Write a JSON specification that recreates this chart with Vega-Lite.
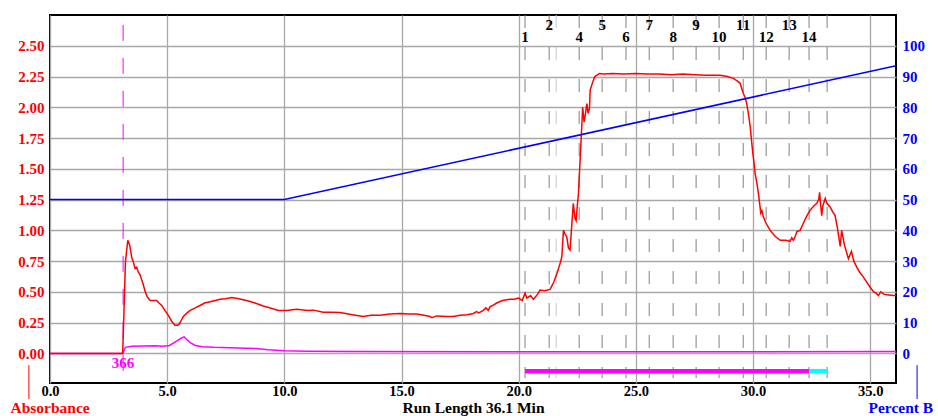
{
  "$schema": "https://vega.github.io/schema/vega-lite/v6.json",
  "width": 846,
  "height": 368,
  "autosize": {"type": "none"},
  "padding": {"left": 50, "top": 15, "right": 42, "bottom": 33},
  "background": "white",
  "config": {
    "view": {"stroke": "black", "strokeWidth": 2},
    "font": "Liberation Serif",
    "axis": {
      "labelFont": "Liberation Serif",
      "labelFontWeight": "bold",
      "labelFontSize": 15,
      "titleFont": "Liberation Serif",
      "titleFontWeight": "bold",
      "titleFontSize": 15.5,
      "domain": false,
      "ticks": false,
      "gridColor": "#a8a8a8",
      "gridWidth": 1.3,
      "gridOpacity": 1
    }
  },
  "datasets": {
    "absorbance": [
      {"t": 0, "abs": 0}, {"t": 3.10, "abs": 0}, {"t": 3.15, "abs": 0.30}, {"t": 3.22, "abs": 0.75},
      {"t": 3.32, "abs": 0.92}, {"t": 3.40, "abs": 0.88}, {"t": 3.49, "abs": 0.78}, {"t": 3.56, "abs": 0.74},
      {"t": 3.63, "abs": 0.69}, {"t": 3.70, "abs": 0.70}, {"t": 3.77, "abs": 0.66}, {"t": 3.84, "abs": 0.64},
      {"t": 3.91, "abs": 0.60}, {"t": 3.98, "abs": 0.56}, {"t": 4.05, "abs": 0.51}, {"t": 4.15, "abs": 0.46},
      {"t": 4.27, "abs": 0.43}, {"t": 4.40, "abs": 0.43}, {"t": 4.55, "abs": 0.43}, {"t": 4.65, "abs": 0.41},
      {"t": 4.77, "abs": 0.39}, {"t": 4.90, "abs": 0.35}, {"t": 5.05, "abs": 0.31}, {"t": 5.20, "abs": 0.26},
      {"t": 5.33, "abs": 0.23}, {"t": 5.45, "abs": 0.23}, {"t": 5.52, "abs": 0.24}, {"t": 5.60, "abs": 0.27},
      {"t": 5.69, "abs": 0.30}, {"t": 5.85, "abs": 0.33}, {"t": 5.98, "abs": 0.35}, {"t": 6.20, "abs": 0.37},
      {"t": 6.40, "abs": 0.39}, {"t": 6.60, "abs": 0.41}, {"t": 6.83, "abs": 0.42}, {"t": 7.05, "abs": 0.43},
      {"t": 7.26, "abs": 0.44}, {"t": 7.50, "abs": 0.445}, {"t": 7.75, "abs": 0.455}, {"t": 8.05, "abs": 0.445},
      {"t": 8.39, "abs": 0.43}, {"t": 8.75, "abs": 0.41}, {"t": 9.10, "abs": 0.385}, {"t": 9.40, "abs": 0.37},
      {"t": 9.75, "abs": 0.35}, {"t": 10.10, "abs": 0.35}, {"t": 10.53, "abs": 0.36}, {"t": 11.0, "abs": 0.35},
      {"t": 11.24, "abs": 0.352}, {"t": 11.66, "abs": 0.335}, {"t": 12.0, "abs": 0.335}, {"t": 12.38, "abs": 0.333},
      {"t": 12.9, "abs": 0.315}, {"t": 13.37, "abs": 0.30}, {"t": 13.7, "abs": 0.31}, {"t": 14.08, "abs": 0.31},
      {"t": 14.5, "abs": 0.32}, {"t": 14.94, "abs": 0.325}, {"t": 15.3, "abs": 0.32}, {"t": 15.65, "abs": 0.32},
      {"t": 15.95, "abs": 0.31}, {"t": 16.22, "abs": 0.30}, {"t": 16.3, "abs": 0.29}, {"t": 16.5, "abs": 0.305},
      {"t": 16.93, "abs": 0.30}, {"t": 17.2, "abs": 0.30}, {"t": 17.5, "abs": 0.31}, {"t": 17.8, "abs": 0.315},
      {"t": 18.07, "abs": 0.325}, {"t": 18.2, "abs": 0.34}, {"t": 18.3, "abs": 0.33}, {"t": 18.49, "abs": 0.35},
      {"t": 18.6, "abs": 0.37}, {"t": 18.7, "abs": 0.35}, {"t": 18.78, "abs": 0.38}, {"t": 18.9, "abs": 0.39},
      {"t": 19.06, "abs": 0.41}, {"t": 19.3, "abs": 0.43}, {"t": 19.63, "abs": 0.44}, {"t": 19.8, "abs": 0.44},
      {"t": 20.0, "abs": 0.45}, {"t": 20.15, "abs": 0.43}, {"t": 20.27, "abs": 0.49}, {"t": 20.35, "abs": 0.45},
      {"t": 20.5, "abs": 0.47}, {"t": 20.63, "abs": 0.44}, {"t": 20.8, "abs": 0.48}, {"t": 20.91, "abs": 0.515},
      {"t": 21.1, "abs": 0.51}, {"t": 21.34, "abs": 0.52}, {"t": 21.5, "abs": 0.58}, {"t": 21.63, "abs": 0.65},
      {"t": 21.75, "abs": 0.72}, {"t": 21.84, "abs": 0.785}, {"t": 21.91, "abs": 1.00}, {"t": 21.98, "abs": 0.97},
      {"t": 22.05, "abs": 0.95}, {"t": 22.12, "abs": 0.86}, {"t": 22.19, "abs": 0.84}, {"t": 22.26, "abs": 1.03},
      {"t": 22.33, "abs": 1.22}, {"t": 22.40, "abs": 1.10}, {"t": 22.45, "abs": 1.08}, {"t": 22.50, "abs": 1.20},
      {"t": 22.55, "abs": 1.30}, {"t": 22.62, "abs": 1.57}, {"t": 22.69, "abs": 1.84}, {"t": 22.73, "abs": 2.00},
      {"t": 22.79, "abs": 1.88}, {"t": 22.85, "abs": 1.95}, {"t": 22.91, "abs": 2.03}, {"t": 22.96, "abs": 1.95},
      {"t": 23.02, "abs": 1.99}, {"t": 23.05, "abs": 2.14}, {"t": 23.15, "abs": 2.20}, {"t": 23.25, "abs": 2.25},
      {"t": 23.33, "abs": 2.26}, {"t": 23.45, "abs": 2.275}, {"t": 23.62, "abs": 2.27}, {"t": 24.0, "abs": 2.275},
      {"t": 24.5, "abs": 2.27}, {"t": 25.0, "abs": 2.275}, {"t": 25.5, "abs": 2.27}, {"t": 26.0, "abs": 2.27},
      {"t": 26.5, "abs": 2.265}, {"t": 27.0, "abs": 2.27}, {"t": 27.5, "abs": 2.265}, {"t": 28.0, "abs": 2.26},
      {"t": 28.6, "abs": 2.26}, {"t": 28.9, "abs": 2.25}, {"t": 29.16, "abs": 2.235}, {"t": 29.35, "abs": 2.21},
      {"t": 29.45, "abs": 2.195}, {"t": 29.52, "abs": 2.15}, {"t": 29.59, "abs": 2.11}, {"t": 29.66, "abs": 2.08},
      {"t": 29.73, "abs": 2.03}, {"t": 29.80, "abs": 1.95}, {"t": 29.88, "abs": 1.84}, {"t": 29.94, "abs": 1.72},
      {"t": 29.99, "abs": 1.63}, {"t": 30.04, "abs": 1.55}, {"t": 30.09, "abs": 1.46}, {"t": 30.15, "abs": 1.40},
      {"t": 30.23, "abs": 1.30}, {"t": 30.28, "abs": 1.22}, {"t": 30.33, "abs": 1.14}, {"t": 30.38, "abs": 1.16},
      {"t": 30.44, "abs": 1.11}, {"t": 30.55, "abs": 1.06}, {"t": 30.73, "abs": 1.00}, {"t": 30.95, "abs": 0.95},
      {"t": 31.16, "abs": 0.92}, {"t": 31.4, "abs": 0.92}, {"t": 31.58, "abs": 0.91}, {"t": 31.65, "abs": 0.94},
      {"t": 31.72, "abs": 0.92}, {"t": 31.80, "abs": 0.95}, {"t": 31.87, "abs": 0.99}, {"t": 32.01, "abs": 1.00},
      {"t": 32.15, "abs": 1.06}, {"t": 32.3, "abs": 1.12}, {"t": 32.44, "abs": 1.165}, {"t": 32.6, "abs": 1.20},
      {"t": 32.72, "abs": 1.22}, {"t": 32.80, "abs": 1.25}, {"t": 32.84, "abs": 1.31}, {"t": 32.88, "abs": 1.22},
      {"t": 32.93, "abs": 1.12}, {"t": 32.98, "abs": 1.20}, {"t": 33.08, "abs": 1.26}, {"t": 33.15, "abs": 1.22},
      {"t": 33.29, "abs": 1.19}, {"t": 33.4, "abs": 1.15}, {"t": 33.5, "abs": 1.12}, {"t": 33.6, "abs": 1.02},
      {"t": 33.72, "abs": 0.87}, {"t": 33.78, "abs": 1.00}, {"t": 33.9, "abs": 0.88}, {"t": 34.07, "abs": 0.77},
      {"t": 34.2, "abs": 0.83}, {"t": 34.3, "abs": 0.75}, {"t": 34.43, "abs": 0.70}, {"t": 34.55, "abs": 0.66},
      {"t": 34.71, "abs": 0.62}, {"t": 34.85, "abs": 0.58}, {"t": 34.99, "abs": 0.54}, {"t": 35.15, "abs": 0.50},
      {"t": 35.25, "abs": 0.49}, {"t": 35.35, "abs": 0.47}, {"t": 35.45, "abs": 0.50}, {"t": 35.6, "abs": 0.48},
      {"t": 35.8, "abs": 0.475}, {"t": 35.99, "abs": 0.47}, {"t": 36.1, "abs": 0.47}
    ],
    "second": [
      {"t": 0, "abs": 0}, {"t": 3.10, "abs": 0}, {"t": 3.22, "abs": 0.05}, {"t": 3.5, "abs": 0.058},
      {"t": 4.0, "abs": 0.06}, {"t": 4.5, "abs": 0.062}, {"t": 4.8, "abs": 0.058}, {"t": 5.1, "abs": 0.065},
      {"t": 5.4, "abs": 0.10}, {"t": 5.6, "abs": 0.125}, {"t": 5.72, "abs": 0.135}, {"t": 5.85, "abs": 0.11},
      {"t": 6.0, "abs": 0.085}, {"t": 6.2, "abs": 0.065}, {"t": 6.5, "abs": 0.055}, {"t": 7.0, "abs": 0.05},
      {"t": 8.0, "abs": 0.045}, {"t": 8.8, "abs": 0.04}, {"t": 9.3, "abs": 0.03}, {"t": 10.0, "abs": 0.022},
      {"t": 11.0, "abs": 0.018}, {"t": 13.0, "abs": 0.015}, {"t": 20.0, "abs": 0.013}, {"t": 30.0, "abs": 0.013},
      {"t": 36.1, "abs": 0.015}
    ],
    "gradient": [
      {"t": 0, "pctB": 50}, {"t": 10, "pctB": 50}, {"t": 36.1, "pctB": 93.5}
    ],
    "fractions": [
      {"frac": "1", "t": 20.27}, {"frac": "2", "t": 21.30}, {"frac": "3", "t": 21.60},
      {"frac": "4", "t": 22.58}, {"frac": "5", "t": 23.56}, {"frac": "6", "t": 24.58},
      {"frac": "7", "t": 25.57}, {"frac": "8", "t": 26.59}, {"frac": "9", "t": 27.57},
      {"frac": "10", "t": 28.55}, {"frac": "11", "t": 29.58}, {"frac": "12", "t": 30.56},
      {"frac": "13", "t": 31.54}, {"frac": "14", "t": 32.39}, {"frac": "", "t": 33.16}
    ],
    "collection": [
      {"start": 20.27, "end": 32.39, "kind": "collected"},
      {"start": 32.39, "end": 33.16, "kind": "tail"}
    ],
    "injection": [
      {"t": 3.12, "label": "366"}
    ]
  },
  "layer": [
    {
      "data": {"name": "fractions"},
      "mark": {"type": "rule", "strokeWidth": 1, "strokeDash": [13, 19]},
      "encoding": {
        "x": {"field": "t", "type": "quantitative", "scale": {"domain": [0, 36.1], "nice": false, "zero": false}},
        "y": {"datum": 2.75, "type": "quantitative", "scale": {"domain": [-0.24, 2.75], "nice": false, "zero": false}, "axis": null},
        "y2": {"datum": -0.2},
        "color": {"condition": {"test": "datum.frac === '3'", "value": "#c8c8c8"}, "value": "#808080"}
      }
    },
    {
      "data": {"name": "collection"},
      "mark": {"type": "rule", "strokeWidth": 4.5},
      "encoding": {
        "x": {"field": "start", "type": "quantitative", "scale": {"domain": [0, 36.1], "nice": false, "zero": false}},
        "x2": {"field": "end"},
        "y": {"datum": -0.144, "type": "quantitative", "scale": {"domain": [-0.24, 2.75], "nice": false, "zero": false}, "axis": null},
        "color": {"field": "kind", "type": "nominal", "scale": {"domain": ["collected", "tail"], "range": ["#ff00ff", "#00ffff"]}, "legend": null}
      }
    },
    {
      "data": {"name": "injection"},
      "mark": {"type": "rule", "color": "#ff00ff", "strokeWidth": 1, "strokeDash": [16, 17]},
      "encoding": {
        "x": {"field": "t", "type": "quantitative", "scale": {"domain": [0, 36.1], "nice": false, "zero": false}},
        "y": {"datum": 2.67, "type": "quantitative", "scale": {"domain": [-0.24, 2.75], "nice": false, "zero": false}, "axis": null},
        "y2": {"datum": -0.2}
      }
    },
    {
      "data": {"name": "injection"},
      "mark": {"type": "text", "color": "#ff00ff", "font": "Liberation Serif", "fontWeight": "bold", "fontSize": 15, "align": "center", "baseline": "middle"},
      "encoding": {
        "x": {"field": "t", "type": "quantitative", "scale": {"domain": [0, 36.1], "nice": false, "zero": false}},
        "y": {"datum": -0.075, "type": "quantitative", "scale": {"domain": [-0.24, 2.75], "nice": false, "zero": false}, "axis": null},
        "text": {"field": "label"}
      }
    },
    {
      "data": {"name": "fractions"},
      "transform": [{"filter": {"field": "frac", "oneOf": ["2", "5", "7", "9", "11", "13"]}}],
      "mark": {"type": "text", "color": "black", "font": "Liberation Serif", "fontWeight": "bold", "fontSize": 15, "align": "center", "baseline": "middle"},
      "encoding": {
        "x": {"field": "t", "type": "quantitative", "scale": {"domain": [0, 36.1], "nice": false, "zero": false}},
        "y": {"datum": 2.667, "type": "quantitative", "scale": {"domain": [-0.24, 2.75], "nice": false, "zero": false}, "axis": null},
        "text": {"field": "frac"}
      }
    },
    {
      "data": {"name": "fractions"},
      "transform": [{"filter": {"field": "frac", "oneOf": ["1", "4", "6", "8", "10", "12", "14"]}}],
      "mark": {"type": "text", "color": "black", "font": "Liberation Serif", "fontWeight": "bold", "fontSize": 15, "align": "center", "baseline": "middle"},
      "encoding": {
        "x": {"field": "t", "type": "quantitative", "scale": {"domain": [0, 36.1], "nice": false, "zero": false}},
        "y": {"datum": 2.57, "type": "quantitative", "scale": {"domain": [-0.24, 2.75], "nice": false, "zero": false}, "axis": null},
        "text": {"field": "frac"}
      }
    },
    {
      "data": {"name": "second"},
      "mark": {"type": "line", "color": "#ff00ff", "strokeWidth": 1.5},
      "encoding": {
        "x": {"field": "t", "type": "quantitative", "scale": {"domain": [0, 36.1], "nice": false, "zero": false}},
        "y": {"field": "abs", "type": "quantitative", "scale": {"domain": [-0.24, 2.75], "nice": false, "zero": false}, "axis": null}
      }
    },
    {
      "data": {"name": "absorbance"},
      "mark": {"type": "line", "color": "#ff0000", "strokeWidth": 1.5},
      "encoding": {
        "x": {
          "field": "t", "type": "quantitative",
          "scale": {"domain": [0, 36.1], "nice": false, "zero": false},
          "axis": {
            "values": [0, 5, 10, 15, 20, 25, 30, 35],
            "format": ".1f",
            "grid": true,
            "labelColor": "black",
            "labelFontSize": 14.5,
            "labelPadding": 1,
            "labelFlush": false,
            "title": "Run Length 36.1 Min",
            "titleColor": "black",
            "titleX": 423,
            "titleY": 29,
            "titleAlign": "center",
            "titleBaseline": "alphabetic"
          }
        },
        "y": {
          "field": "abs", "type": "quantitative",
          "scale": {"domain": [-0.24, 2.75], "nice": false, "zero": false},
          "axis": {
            "orient": "left",
            "values": [0, 0.25, 0.5, 0.75, 1, 1.25, 1.5, 1.75, 2, 2.25, 2.5],
            "format": ".2f",
            "grid": true,
            "labelColor": "#ff0000",
            "labelPadding": 6,
            "title": "Absorbance",
            "titleColor": "#ff0000",
            "titleAngle": 0,
            "titleX": -40,
            "titleY": 397,
            "titleAlign": "left",
            "titleBaseline": "alphabetic"
          }
        }
      }
    },
    {
      "data": {"values": [{}]},
      "mark": {"type": "rule", "color": "#ff0000", "strokeWidth": 1},
      "encoding": {
        "x": {"datum": -0.9, "type": "quantitative", "scale": {"domain": [0, 36.1], "nice": false, "zero": false}},
        "y": {"datum": -0.095, "type": "quantitative", "scale": {"domain": [-0.24, 2.75], "nice": false, "zero": false}, "axis": null},
        "y2": {"datum": -0.37}
      }
    },
    {
      "data": {"values": [{}]},
      "mark": {"type": "rule", "color": "#0000ff", "strokeWidth": 1},
      "encoding": {
        "x": {"datum": 37.0, "type": "quantitative", "scale": {"domain": [0, 36.1], "nice": false, "zero": false}},
        "y": {"datum": -0.095, "type": "quantitative", "scale": {"domain": [-0.24, 2.75], "nice": false, "zero": false}, "axis": null},
        "y2": {"datum": -0.37}
      }
    },
    {
      "data": {"name": "gradient"},
      "mark": {"type": "line", "color": "#0000ff", "strokeWidth": 1.5},
      "encoding": {
        "x": {"field": "t", "type": "quantitative", "scale": {"domain": [0, 36.1], "nice": false, "zero": false}},
        "y": {
          "field": "pctB", "type": "quantitative",
          "scale": {"domain": [-9.64, 110], "nice": false, "zero": false},
          "axis": {
            "orient": "right",
            "values": [0, 10, 20, 30, 40, 50, 60, 70, 80, 90, 100],
            "grid": false,
            "labelColor": "#0000ff",
            "labelPadding": 6,
            "title": "Percent B",
            "titleColor": "#0000ff",
            "titleAngle": 0,
            "titleX": -28,
            "titleY": 397,
            "titleAlign": "left",
            "titleBaseline": "alphabetic"
          }
        }
      }
    }
  ],
  "resolve": {"scale": {"y": "independent"}}
}
